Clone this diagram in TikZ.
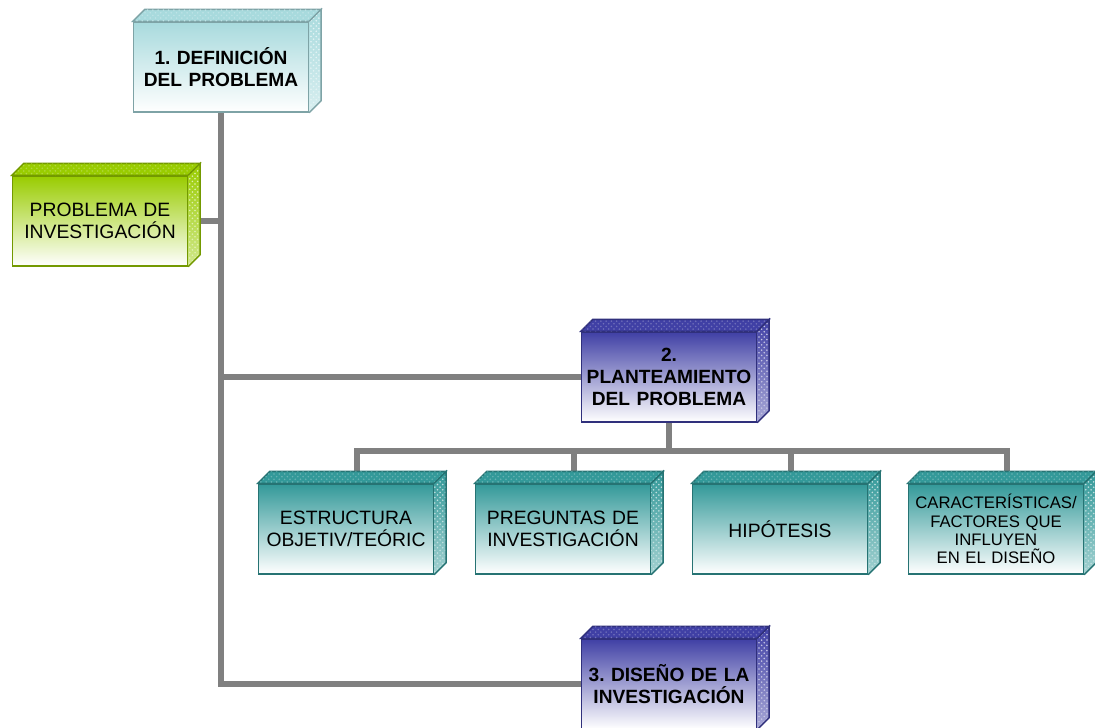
\documentclass[tikz,border=0pt]{standalone}
\usepackage{fontspec}
\setmainfont{Liberation Sans}
\usepackage{tikz}
\usetikzlibrary{patterns}
\frenchspacing

\definecolor{cian}{RGB}{168,218,221}
\definecolor{verde}{RGB}{153,204,0}
\definecolor{azul}{RGB}{64,64,165}
\definecolor{verdeazul}{RGB}{51,153,153}
\definecolor{linea}{RGB}{128,128,128}

\begin{document}
\begin{tikzpicture}[x=0.02cm, y=-0.02cm,
  caja/.style={draw=#1!75!black, thick, top color=#1, middle color=#1!40!white, bottom color=white,
    minimum width=3.5cm, minimum height=1.8cm, text width=3.5cm, inner sep=0pt, align=center,
    font=\fontsize{11}{12.6}\selectfont},
  negrita/.style={font=\fontsize{10.9}{12.6}\selectfont\bfseries},
  conector/.style={draw=linea, line width=0.12cm}]
\clip (0,0) rectangle (1095,727);

% Drawing boxes
\node[caja=cian, negrita] (def) at (221,67) {1. DEFINICIÓN\\DEL PROBLEMA};
\node[caja=verde] (prob) at (100,221) {PROBLEMA DE\\INVESTIGACIÓN};
\node[caja=azul, negrita] (plan) at (669,377) {2.\\PLANTEAMIENTO\\DEL PROBLEMA};
\node[caja=azul, negrita] (dis) at (669,684) {3. DISEÑO DE LA\\INVESTIGACIÓN};
\node[caja=verdeazul] (est) at (346,529) {ESTRUCTURA\\OBJETIV/TEÓRIC};
\node[caja=verdeazul] (pre) at (563,529) {PREGUNTAS DE\\INVESTIGACIÓN};
\node[caja=verdeazul] (hip) at (780,529) {HIPÓTESIS};
\node[caja=verdeazul, font=\fontsize{9.5}{10.4}\selectfont] (car) at (996,529) {CARACTERÍSTICAS/\\FACTORES QUE\\INFLUYEN\\EN EL DISEÑO};
\coordinate (barra) at (669,451);

% Drawing connectors
\draw[conector] (def.south) -- (def.south |- dis.west) -- (dis.west);
\draw[conector] (def.south |- plan.west) -- (plan.west);
\draw[conector] (prob.east) -- (def.south |- prob.east);
\draw[conector] (plan.south) -- (plan.south |- barra);
\draw[conector] ([xshift=0.22cm]est.north) -- ([xshift=0.22cm]est.north |- barra)
  -- ([xshift=0.22cm]car.north |- barra) -- ([xshift=0.22cm]car.north);
\draw[conector] ([xshift=0.22cm]pre.north) -- ([xshift=0.22cm]pre.north |- barra);
\draw[conector] ([xshift=0.22cm]hip.north) -- ([xshift=0.22cm]hip.north |- barra);

% Drawing top and side faces
\foreach \n/\c in {def/cian, prob/verde, plan/azul, dis/azul, est/verdeazul, pre/verdeazul, hip/verdeazul, car/verdeazul}{
  \filldraw[fill=\c, draw=\c!75!black, thick] (\n.north west) -- ++(12,-12)
    -- ([shift={(12,-12)}]\n.north east) -- (\n.north east) -- cycle;
  \fill[pattern=crosshatch dots, pattern color=\c!75!white] (\n.north west) -- ++(12,-12)
    -- ([shift={(12,-12)}]\n.north east) -- (\n.north east) -- cycle;
  \fill[top color=\c, bottom color=\c!45!white] (\n.north east) -- ++(12,-12)
    -- ([shift={(12,-12)}]\n.south east) -- (\n.south east) -- cycle;
  \fill[pattern=crosshatch dots, pattern color=white!70!\c] (\n.north east) -- ++(12,-12)
    -- ([shift={(12,-12)}]\n.south east) -- (\n.south east) -- cycle;
  \draw[\c!75!black, thick] (\n.north east) -- ++(12,-12)
    -- ([shift={(12,-12)}]\n.south east) -- (\n.south east);
}
\end{tikzpicture}
\end{document}
